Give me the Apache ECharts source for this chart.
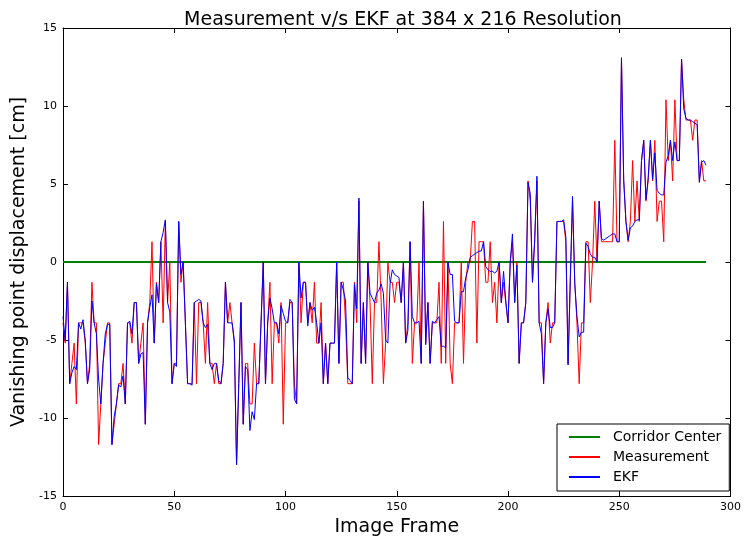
<!DOCTYPE html>
<html>
<head>
<meta charset="utf-8">
<script src="https://cdn.jsdelivr.net/npm/echarts@6/dist/echarts.min.js"></script>
<style>
  html, body { margin: 0; padding: 0; background: #ffffff; }
  #chart { width: 744px; height: 542px; }
</style>
</head>
<body>
<div id="chart"></div>
<script>
// Vanishing point displacement per image frame [cm]
const measurement = [
  -3.9, -5.2, -1.3, -7.8, -6.5, -5.2, -9.1, -3.9, -3.9, -3.9,
  -5.2, -7.8, -6.5, -1.3, -3.9, -3.9, -11.7, -9.1, -6.5, -5.2,
  -3.9, -3.9, -11.7, -10.4, -9.1, -7.8, -7.8, -6.5, -9.1, -3.9,
  -3.9, -5.2, -2.6, -2.6, -6.5, -5.2, -3.9, -10.4, -3.9, -2.6,
  1.3, -5.2, -1.3, -2.6, 1.3, -3.9, 2.6, -2.6, 0, -7.8,
  -6.5, -6.5, 2.6, -1.3, 0, -3.9, -7.8, -7.8, -7.8, -2.6,
  -7.8, -2.6, -2.6, -3.9, -6.5, -2.6, -6.5, -6.5, -7.8, -6.5,
  -7.8, -7.8, -6.5, -1.3, -3.9, -2.6, -3.9, -5.2, -13.0, -7.8,
  -2.6, -10.4, -6.5, -6.5, -9.1, -9.1, -5.2, -7.8, -7.8, -3.9,
  0, -7.8, -3.9, -1.3, -7.8, -3.9, -3.9, -5.2, -2.6, -10.4,
  -3.9, -3.9, -2.6, -2.6, -7.8, -9.1, 0, -3.9, -1.3, -1.3,
  -3.9, -2.6, -3.9, -1.3, -5.2, -5.2, -2.6, -7.8, -5.2, -7.8,
  -5.2, -5.2, -5.2, 0, -6.5, -1.3, -1.3, -3.9, -7.8, -7.8,
  -7.8, -1.3, -3.9, 3.9, -6.5, -2.6, -6.5, 0, -2.6, -7.8,
  -2.6, -2.6, 1.3, -2.6, -7.8, -5.2, 0, -1.3, -1.3, -2.6,
  -1.3, -1.3, -2.6, 0, -5.2, -3.9, 1.3, -6.5, -3.9, -3.9,
  0, -6.5, 3.9, -5.2, -2.6, -6.5, -3.9, -3.9, -3.9, -1.3,
  -6.5, 2.6, -6.5, 0, -6.5, -7.8, -3.9, -3.9, -3.9, 0,
  -6.5, -1.3, 0, 0, 2.6, 2.6, -5.2, 1.3, 1.3, 1.3,
  -1.3, -1.3, 1.3, -2.6, -1.3, -3.9, 0, -2.6, -1.3, -2.6,
  -3.9, 0, 1.3, -2.6, 0, -6.5, -3.9, -3.9, -2.6, 5.2,
  3.9, -1.3, 1.3, 5.2, -3.9, -3.9, -7.8, -3.9, -2.6, -5.2,
  -3.9, -3.9, 2.6, 2.6, 2.6, 2.6, 1.3, -6.5, -1.3, 3.9,
  -1.3, -3.9, -7.8, -3.9, -3.9, 1.3, 1.3, -2.6, 0, 3.9,
  0, 3.9, 1.3, 1.3, 1.3, 1.3, 1.3, 1.3, 7.8, 1.3,
  1.3, 13.0, 5.2, 2.6, 1.3, 2.6, 6.5, 2.6, 5.2, 2.6,
  6.5, 7.8, 3.9, 5.2, 7.8, 5.2, 7.8, 2.6, 3.9, 3.9,
  1.3, 10.4, 6.5, 7.8, 5.2, 10.4, 6.5, 6.5, 13.0, 10.4,
  9.1, 9.1, 9.1, 7.8, 9.1, 9.1, 5.2, 6.5, 5.2, 5.2
];

const ekf = [
  -3.5, -5.0, -1.3, -7.8, -7.1, -6.7, -6.9, -3.9, -4.3, -3.7,
  -5.0, -7.8, -6.9, -2.5, -3.9, -4.6, -7.5, -9.1, -6.5, -4.6,
  -4.0, -4.0, -11.7, -9.9, -9.1, -7.9, -8.0, -7.3, -9.1, -3.9,
  -3.8, -4.6, -2.6, -2.6, -6.5, -5.9, -5.8, -10.4, -3.9, -2.9,
  -2.1, -5.2, -1.4, -2.6, 1.3, 1.9, 2.7, -2.6, -3.2, -7.8,
  -6.5, -6.7, 2.6, -0.8, 0, -3.9, -7.8, -7.8, -7.9, -2.6,
  -2.5, -2.4, -2.5, -3.9, -4.2, -4.0, -6.5, -6.9, -6.5, -6.5,
  -7.6, -7.8, -6.5, -1.3, -3.9, -3.9, -3.9, -5.0, -13.0, -7.8,
  -2.6, -10.4, -6.7, -6.9, -10.8, -9.6, -10.1, -7.8, -7.8, -3.9,
  0, -7.8, -3.9, -2.3, -3.0, -3.9, -3.9, -4.6, -2.8, -3.3,
  -3.8, -3.9, -2.4, -2.6, -8.8, -9.1, 0, -2.3, -1.3, -1.3,
  -4.1, -2.6, -3.1, -2.9, -3.9, -5.2, -3.9, -7.8, -5.2, -7.8,
  -5.2, -5.2, -5.2, 0, -6.5, -1.3, -1.8, -2.5, -7.4, -7.6,
  -7.8, -1.4, -3.0, 4.1, -6.5, -2.6, -6.5, 0, -2.0, -2.3,
  -2.6, -2.0, -1.8, -1.4, -2.0, -5.0, -5.2, -1.4, -0.5, -0.8,
  -0.9, -1.0, -2.6, 0, -5.2, -4.4, 1.3, -3.5, -3.9, -3.9,
  -3.8, -6.5, 3.9, -5.3, -2.6, -6.5, -3.8, -3.9, -3.7, -3.5,
  -5.4, -5.4, -5.5, 0, -0.8, -0.8, -3.8, -3.9, -3.9, -1.9,
  -1.9, -1.0, -0.5, 0.3, 0.4, 0.5, 0.6, 0.7, 0.7, 1.3,
  -0.3, -0.5, -0.6, -0.6, -0.7, -0.6, 0, -2.6, -0.6, -2.5,
  -3.9, 0, 1.8, -2.6, -0.2, -6.5, -3.9, -3.9, -2.6, 5.1,
  4.4, -1.3, 1.5, 5.5, -3.9, -4.6, -7.8, -3.9, -3.0, -4.2,
  -4.2, -3.9, 2.6, 2.6, 2.6, 2.7, 1.6, -6.6, -1.0, 4.2,
  -1.4, -3.5, -4.8, -4.5, -4.5, 1.2, 1.0, 0.5, 0.3, 0.3,
  0, 3.9, 1.5, 1.4, 1.5, 1.6, 1.7, 1.8, 1.8, 1.3,
  1.3, 13.1, 5.3, 2.6, 1.4, 2.2, 2.3, 2.6, 2.7, 2.7,
  6.5, 7.8, 4.0, 5.4, 7.8, 5.3, 7.0, 4.6, 4.4, 4.3,
  4.3, 6.4, 6.8, 7.8, 6.5, 7.7, 6.5, 6.5, 13.0, 9.8,
  9.2, 9.1, 9.1, 9.0, 8.9, 8.8, 5.1, 6.4, 6.5, 6.2
];

const corridorCenter = measurement.map(() => 0);

const xTicks = { min: 0, max: 300, interval: 50 };
const yTicks = { min: -15, max: 15, interval: 5 };

const FONT = 'DejaVu Sans';

const toPairs = arr => arr.map((v, i) => [i, v]);

const frameAxisBase = {
  type: 'value',
  min: xTicks.min, max: xTicks.max, interval: xTicks.interval,
  splitLine: { show: false },
  axisLine: { show: true, onZero: false, lineStyle: { color: '#000', width: 1 } },
  axisTick: { show: true, inside: true, length: 5, lineStyle: { color: '#000' } }
};
const valueAxisBase = {
  type: 'value',
  min: yTicks.min, max: yTicks.max, interval: yTicks.interval,
  splitLine: { show: false },
  axisLine: { show: true, onZero: false, lineStyle: { color: '#000', width: 1 } },
  axisTick: { show: true, inside: true, length: 5, lineStyle: { color: '#000' } }
};

const chart = echarts.init(document.getElementById('chart'), null, { renderer: 'canvas' });

chart.setOption({
  backgroundColor: '#ffffff',
  animation: false,
  title: {
    text: 'Measurement v/s EKF at 384 x 216 Resolution',
    left: 398,
    textAlign: 'center',
    top: 6,
    textStyle: { fontFamily: FONT, fontSize: 19, fontWeight: 'normal', color: '#000' }
  },
  grid: { left: 63, right: 11, top: 28, bottom: 46, containLabel: false },
  legend: {
    orient: 'vertical',
    left: 557,
    top: 424,
    padding: [6, 8, 7, 12],
    itemGap: 6,
    itemWidth: 31,
    itemHeight: 2,
    borderColor: '#000',
    borderWidth: 1,
    backgroundColor: '#fff',
    textStyle: { fontFamily: FONT, fontSize: 14, color: '#000', padding: [0, 0, 0, 8] },
    data: [
      { name: 'Corridor Center', icon: 'rect' },
      { name: 'Measurement', icon: 'rect' },
      { name: 'EKF', icon: 'rect' }
    ]
  },
  xAxis: [
    Object.assign({}, frameAxisBase, {
      position: 'bottom',
      name: 'Image Frame',
      nameLocation: 'middle',
      nameGap: 19,
      nameTextStyle: { fontFamily: FONT, fontSize: 19, color: '#000' },
      axisLabel: { show: true, margin: 6, fontFamily: FONT, fontSize: 11, color: '#000' }
    }),
    Object.assign({}, frameAxisBase, {
      position: 'top',
      axisLabel: { show: false }
    })
  ],
  yAxis: [
    Object.assign({}, valueAxisBase, {
      position: 'left',
      name: 'Vanishing point displacement [cm]',
      nameLocation: 'middle',
      nameGap: 32,
      nameTextStyle: { fontFamily: FONT, fontSize: 19, color: '#000' },
      axisLabel: { show: true, margin: 6, fontFamily: FONT, fontSize: 11, color: '#000' }
    }),
    Object.assign({}, valueAxisBase, {
      position: 'right',
      axisLabel: { show: false }
    })
  ],
  series: [
    {
      name: 'Corridor Center',
      type: 'line',
      data: toPairs(corridorCenter),
      showSymbol: false,
      color: '#008000',
      lineStyle: { color: '#008000', width: 2 },
      z: 2
    },
    {
      name: 'Measurement',
      type: 'line',
      data: toPairs(measurement),
      showSymbol: false,
      color: '#ff0000',
      lineStyle: { color: '#ff0000', width: 1 },
      z: 3
    },
    {
      name: 'EKF',
      type: 'line',
      data: toPairs(ekf),
      showSymbol: false,
      color: '#0000ff',
      lineStyle: { color: '#0000ff', width: 1 },
      z: 4
    }
  ]
});
</script>
</body>
</html>
